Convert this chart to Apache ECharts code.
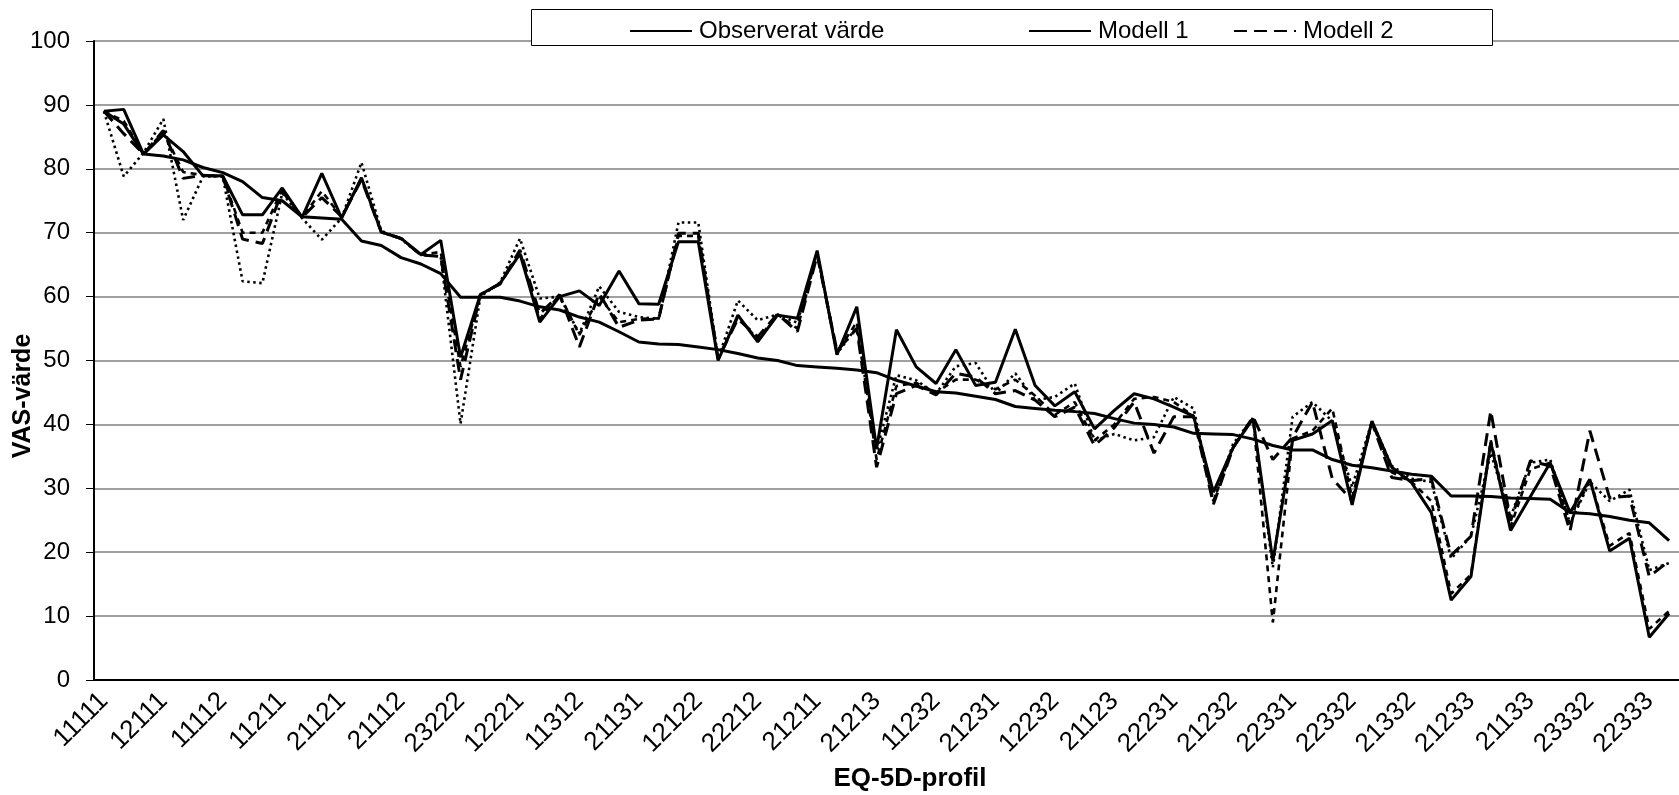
<!DOCTYPE html>
<html>
<head>
<meta charset="utf-8">
<script src="https://cdn.jsdelivr.net/npm/echarts@6/dist/echarts.min.js"></script>
<style>
  html, body { margin: 0; padding: 0; background: #fff; }
  #chart { width: 1679px; height: 795px; }
</style>
</head>
<body>
<div id="chart"></div>
<script>
// x-axis labels, shown on every third profile
var tickLabels = ['11111', '12111', '11112', '11211', '21121', '21112', '23222', '12221', '11312',
    '21131', '12122', '22212', '21211', '21213', '11232', '21231', '12232', '21123',
    '22231', '21232', '22331', '22332', '21332', '21233', '21133', '23332', '22333'];
var nProfiles = 80;

var observed = [89.0, 87.0, 82.3, 82.0, 81.4, 80.2, 79.4, 78.0, 75.5, 75.0,
    72.5, 72.3, 72.1, 68.7, 68.0, 66.1, 65.1, 63.6, 59.9, 59.9,
    59.9, 59.3, 58.4, 57.9, 56.8, 56.0, 54.5, 52.9, 52.6, 52.5,
    52.1, 51.7, 51.1, 50.4, 50.0, 49.2, 49.0, 48.8, 48.5, 48.1,
    46.9, 46.0, 45.1, 44.9, 44.4, 43.9, 42.8, 42.5, 42.2, 42.0,
    41.7, 40.9, 40.2, 40.0, 39.6, 38.6, 38.5, 38.4, 37.7, 36.7,
    36.0, 36.0, 34.5, 33.6, 33.2, 32.7, 32.2, 31.9, 28.8, 28.8,
    28.7, 28.5, 28.4, 28.3, 26.2, 26.0, 25.6, 25.0, 24.6, 21.8];

var modell1 = [89.0, 89.3, 82.3, 85.3, 82.7, 78.9, 78.9, 72.8, 72.8, 77.0,
    72.4, 79.3, 72.3, 78.6, 70.1, 69.1, 66.6, 68.8, 50.5, 60.3,
    62.1, 66.7, 56.0, 60.0, 60.9, 58.6, 64.0, 58.9, 58.8, 68.6,
    68.6, 50.0, 57.1, 52.9, 57.1, 56.6, 67.2, 50.9, 58.4, 36.2,
    54.8, 49.0, 46.4, 51.7, 46.1, 46.6, 54.9, 46.1, 42.9, 45.1,
    39.3, 42.2, 44.8, 44.0, 42.7, 41.3, 29.4, 36.4, 40.9, 18.6,
    37.5, 38.5, 40.6, 27.4, 40.5, 33.3, 30.9, 26.2, 12.5, 16.2,
    37.2, 23.4, 28.7, 34.0, 26.2, 31.4, 20.2, 22.2, 6.7, 10.4];

var modell2 = [89.0, 85.5, 82.3, 86.0, 78.5, 79.0, 78.8, 69.0, 68.3, 76.5,
    72.4, 75.5, 72.5, 78.3, 70.1, 69.1, 66.5, 66.3, 47.0, 60.3,
    62.0, 67.3, 57.3, 60.3, 52.1, 60.5, 55.2, 56.3, 56.5, 69.9,
    69.9, 50.3, 56.5, 53.7, 57.3, 54.5, 66.5, 51.5, 55.0, 33.3,
    44.8, 46.1, 44.6, 48.0, 47.4, 44.8, 45.3, 43.8, 41.2, 42.7,
    36.7, 39.5, 43.5, 35.5, 41.2, 41.2, 27.5, 36.4, 41.2, 34.5,
    38.0, 43.5, 31.5, 28.1, 40.3, 31.7, 31.2, 31.5, 19.5, 22.5,
    42.1, 24.9, 34.3, 33.5, 23.3, 39.0, 28.5, 28.8, 16.2, 18.6];

var modell3 = [89.0, 87.5, 82.3, 85.8, 79.5, 79.0, 78.8, 70.0, 70.0, 76.8,
    72.4, 76.5, 72.4, 78.5, 70.1, 69.1, 66.5, 67.0, 49.0, 60.3,
    62.0, 67.0, 56.5, 60.3, 54.0, 60.0, 56.0, 56.5, 56.6, 69.5,
    69.5, 50.3, 56.8, 53.3, 57.2, 55.0, 66.8, 51.3, 56.0, 34.5,
    46.0, 46.5, 45.0, 47.0, 47.0, 45.5, 47.0, 44.5, 41.5, 43.5,
    37.5, 40.0, 44.0, 44.3, 43.5, 41.3, 28.0, 36.4, 41.0, 9.0,
    37.8, 39.0, 42.5, 28.5, 40.4, 32.5, 31.0, 28.0, 13.5, 16.5,
    37.5, 24.0, 33.0, 34.0, 24.5, 31.5, 21.0, 23.0, 8.0, 10.8];

var modell4 = [89.0, 78.8, 82.5, 87.8, 72.0, 78.8, 78.8, 62.4, 62.1, 76.2,
    72.3, 68.9, 72.3, 81.0, 70.3, 69.0, 66.5, 66.3, 40.1, 60.0,
    62.2, 69.1, 59.7, 60.0, 54.2, 61.6, 57.6, 56.8, 56.5, 71.6,
    71.6, 50.3, 59.4, 56.3, 57.2, 55.9, 67.0, 51.0, 55.3, 35.9,
    47.7, 46.9, 44.8, 49.1, 49.6, 44.8, 48.0, 43.8, 44.3, 46.4,
    37.5, 38.5, 37.5, 38.0, 44.3, 42.5, 28.0, 37.0, 41.0, 17.6,
    41.2, 43.5, 40.5, 30.2, 40.5, 33.5, 31.5, 31.0, 19.0, 22.5,
    35.5, 25.5, 34.0, 34.5, 24.5, 31.0, 28.0, 29.8, 17.2, 18.3];

var categories = [];
for (var i = 0; i < nProfiles; i++) {
    categories.push(i % 3 === 0 ? tickLabels[i / 3] : '');
}

var font = 'Liberation Sans, Arial, sans-serif';
var chart = echarts.init(document.getElementById('chart'));

function lineSeries(name, data, type, width) {
    return {
        name: name,
        type: 'line',
        data: data,
        symbol: 'none',
        animation: false,
        itemStyle: { color: '#000' },
        lineStyle: { color: '#000', width: width, type: type }
    };
}

function legendItem(name, left) {
    return {
        data: [name],
        left: left,
        top: 14,
        z: 20,
        itemWidth: 62,
        itemHeight: 14,
        itemGap: 0,
        selectedMode: false,
        itemStyle: { opacity: 0 },
        textStyle: { fontFamily: font, fontSize: 24, color: '#000', padding: [0, 0, 0, 2] }
    };
}

var option = {
    backgroundColor: '#fff',
    animation: false,
    grid: { left: 94, top: 41, width: 1587, height: 639 },
    legend: [
        legendItem('Observerat värde', 624),
        legendItem('Modell 1', 1023),
        legendItem('Modell 2', 1228)
    ],
    graphic: [
        {
            type: 'rect',
            z: 10,
            shape: { x: 531.5, y: 9.5, width: 961, height: 36 },
            style: { fill: '#fff', stroke: '#000', lineWidth: 1 }
        },
        {
            type: 'text',
            x: 23, y: 396,
            rotation: Math.PI / 2,
            style: {
                text: 'VAS-värde', fontFamily: font, fontSize: 25, fontWeight: 'bold',
                fill: '#000', align: 'center', verticalAlign: 'middle'
            }
        },
        {
            type: 'text',
            x: 910, y: 779,
            style: {
                text: 'EQ-5D-profil', fontFamily: font, fontSize: 26, fontWeight: 'bold',
                fill: '#000', align: 'center', verticalAlign: 'middle'
            }
        }
    ],
    xAxis: {
        type: 'category',
        data: categories,
        boundaryGap: true,
        axisLine: { lineStyle: { color: '#000', width: 2 } },
        axisTick: { interval: 0, length: 7, lineStyle: { color: '#000', width: 1 } },
        axisLabel: {
            interval: 2, rotate: 45, margin: 17,
            fontFamily: font, fontSize: 26, color: '#000'
        },
        splitLine: { show: false }
    },
    yAxis: {
        type: 'value',
        min: 0, max: 100, interval: 10,
        axisLine: { show: true, lineStyle: { color: '#000', width: 2 } },
        axisTick: { show: true, length: 8, lineStyle: { color: '#000', width: 1 } },
        axisLabel: { margin: 24, fontFamily: font, fontSize: 24, color: '#000' },
        splitLine: { lineStyle: { color: '#808080', width: 1.5 } }
    },
    series: [
        lineSeries('Observerat värde', observed, 'solid', 3),
        lineSeries('Modell 1', modell1, 'solid', 3),
        lineSeries('Modell 2', modell2, [13, 7], 3),
        lineSeries('Modell 3', modell3, [6, 5], 2.6),
        lineSeries('Modell 4', modell4, [2.5, 3.5], 2.6)
    ]
};

chart.setOption(option);
</script>
</body>
</html>
